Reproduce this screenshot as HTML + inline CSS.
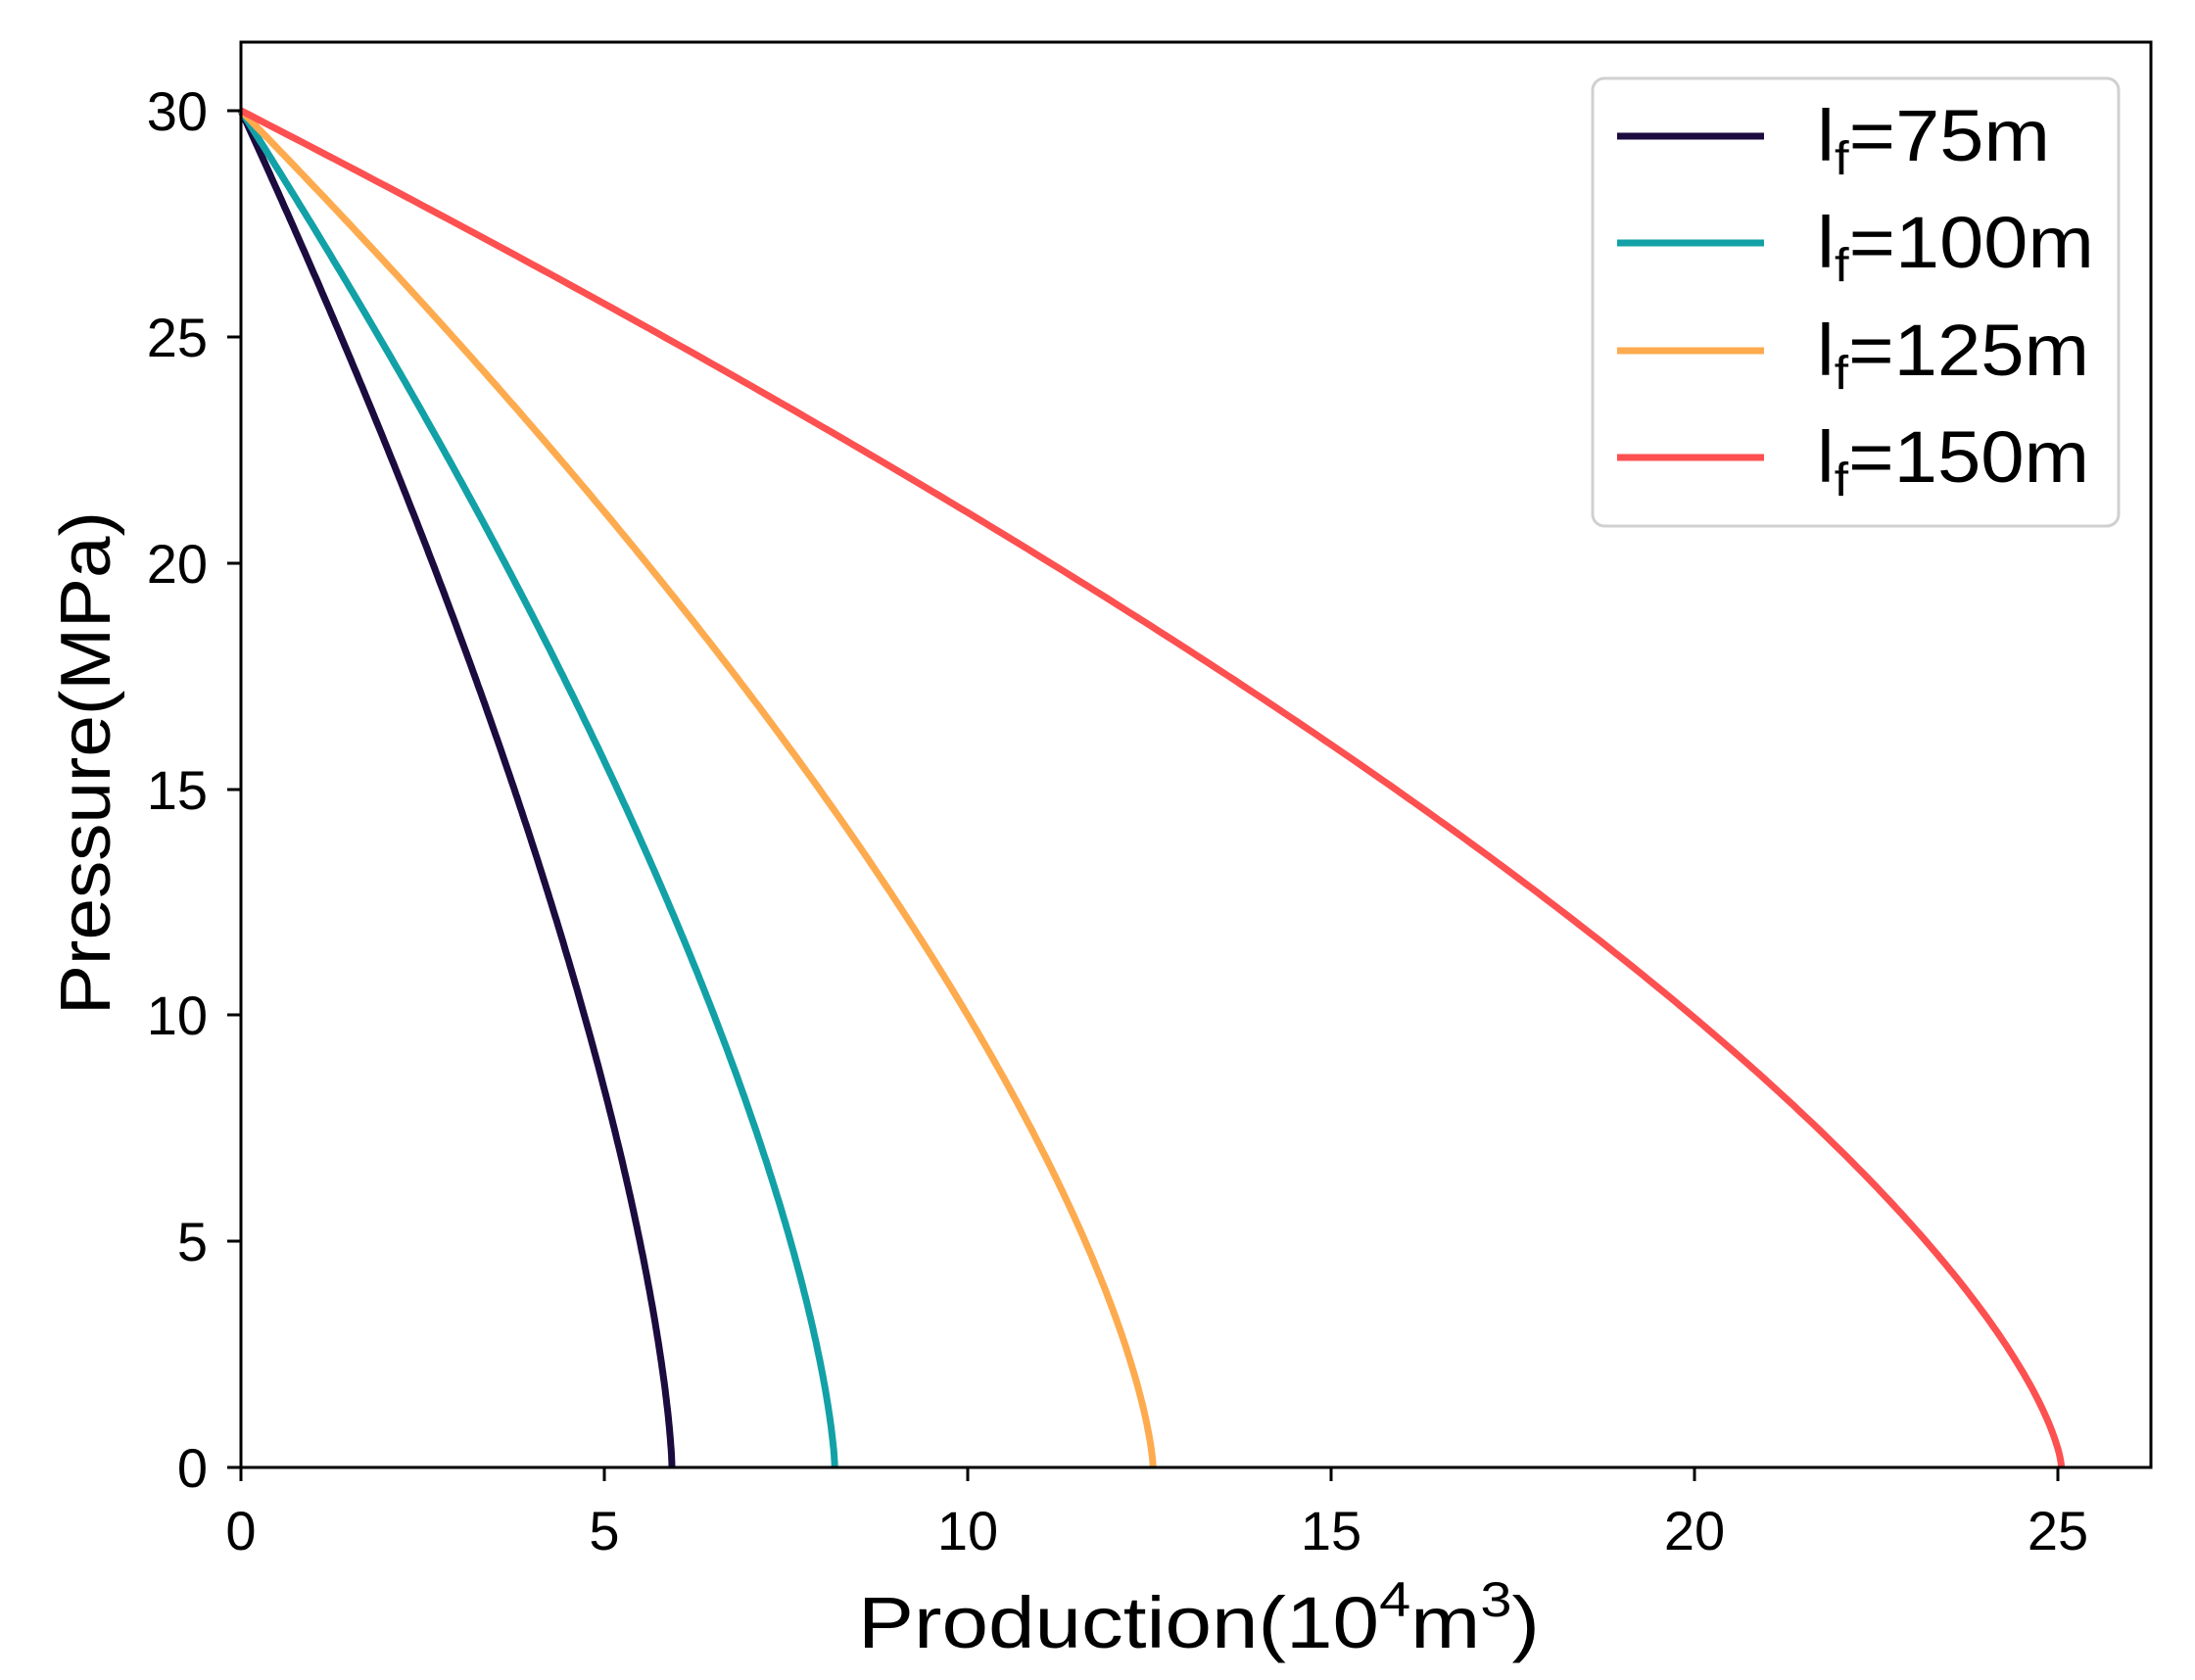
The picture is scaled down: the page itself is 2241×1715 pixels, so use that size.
<!DOCTYPE html>
<html><head><meta charset="utf-8"><style>
html,body{margin:0;padding:0;background:#fff;}
svg{display:block;}
text{font-family:"Liberation Sans","DejaVu Sans",sans-serif;fill:#000;}
</style></head><body>
<svg id="s" width="2241" height="1715" viewBox="0 0 2241 1715" xmlns="http://www.w3.org/2000/svg">
<rect width="2241" height="1715" fill="#fff"/>
<g id="curves" fill="none" stroke-width="7" stroke-linejoin="round"></g>
<rect x="246" y="43" width="1950" height="1455" fill="none" stroke="#000" stroke-width="3"/>
<g stroke="#000" stroke-width="3">
<line x1="246" y1="1498" x2="246" y2="1512"/><line x1="617" y1="1498" x2="617" y2="1512"/>
<line x1="988" y1="1498" x2="988" y2="1512"/><line x1="1359" y1="1498" x2="1359" y2="1512"/>
<line x1="1730" y1="1498" x2="1730" y2="1512"/><line x1="2101" y1="1498" x2="2101" y2="1512"/>
<line x1="232" y1="1498" x2="246" y2="1498"/><line x1="232" y1="1267" x2="246" y2="1267"/>
<line x1="232" y1="1036" x2="246" y2="1036"/><line x1="232" y1="806" x2="246" y2="806"/>
<line x1="232" y1="575" x2="246" y2="575"/><line x1="232" y1="344" x2="246" y2="344"/>
<line x1="232" y1="113" x2="246" y2="113"/>
</g>
<g font-size="56" text-anchor="middle">
<text x="246" y="1582">0</text><text x="617" y="1582">5</text><text x="988" y="1582">10</text>
<text x="1359" y="1582">15</text><text x="1730" y="1582">20</text><text x="2101" y="1582">25</text>
</g>
<g font-size="56" text-anchor="end">
<text x="212" y="1518">0</text><text x="212" y="1287">5</text><text x="212" y="1056">10</text>
<text x="212" y="826">15</text><text x="212" y="595">20</text><text x="212" y="364">25</text>
<text x="212" y="133">30</text>
</g>
<text x="876" y="1682" font-size="74" textLength="696" lengthAdjust="spacingAndGlyphs">Production(10<tspan font-size="50" dy="-32">4</tspan><tspan dy="32">m</tspan><tspan font-size="50" dy="-32">3</tspan><tspan dy="32">)</tspan></text>
<text transform="translate(112,779) rotate(-90)" font-size="72" text-anchor="middle" textLength="514" lengthAdjust="spacingAndGlyphs">Pressure(MPa)</text>
<rect x="1626" y="80" width="537" height="457" rx="12" fill="#fff" stroke="#d0d0d0" stroke-width="3"/>
<g stroke-width="7">
<line x1="1651" y1="139" x2="1801" y2="139" stroke="#1b0b3e"/>
<line x1="1651" y1="248" x2="1801" y2="248" stroke="#12a1a6"/>
<line x1="1651" y1="358" x2="1801" y2="358" stroke="#fdab4e"/>
<line x1="1651" y1="467" x2="1801" y2="467" stroke="#fd5050"/>
</g>
<g font-size="74">
<text x="1855" y="164" textLength="238" lengthAdjust="spacingAndGlyphs">l<tspan font-size="48" dy="14">f</tspan><tspan dy="-14">=75m</tspan></text>
<text x="1855" y="273" textLength="283" lengthAdjust="spacingAndGlyphs">l<tspan font-size="48" dy="14">f</tspan><tspan dy="-14">=100m</tspan></text>
<text x="1855" y="383" textLength="278" lengthAdjust="spacingAndGlyphs">l<tspan font-size="48" dy="14">f</tspan><tspan dy="-14">=125m</tspan></text>
<text x="1855" y="492" textLength="278" lengthAdjust="spacingAndGlyphs">l<tspan font-size="48" dy="14">f</tspan><tspan dy="-14">=150m</tspan></text>
</g>
</svg>
<script>
var g=document.getElementById('curves');
var S=[[5.93,'#1b0b3e',1.45],[8.17,'#12a1a6',1.45],[12.55,'#fdab4e',1.45],[25.05,'#fd5050',1.45]];
S.forEach(function(s){
 var d='';
 for(var i=0;i<=300;i++){var p=30*(1-i/300);var q=s[0]*(1-Math.pow(p/30,s[2]));
  var x=246+q*74.2, y=1498-p*46.17; d+=(i?'L':'M')+x.toFixed(1)+' '+y.toFixed(1);}
 var e=document.createElementNS('http://www.w3.org/2000/svg','path');
 e.setAttribute('d',d);e.setAttribute('stroke',s[1]);g.appendChild(e);
});
</script>
</body></html>
